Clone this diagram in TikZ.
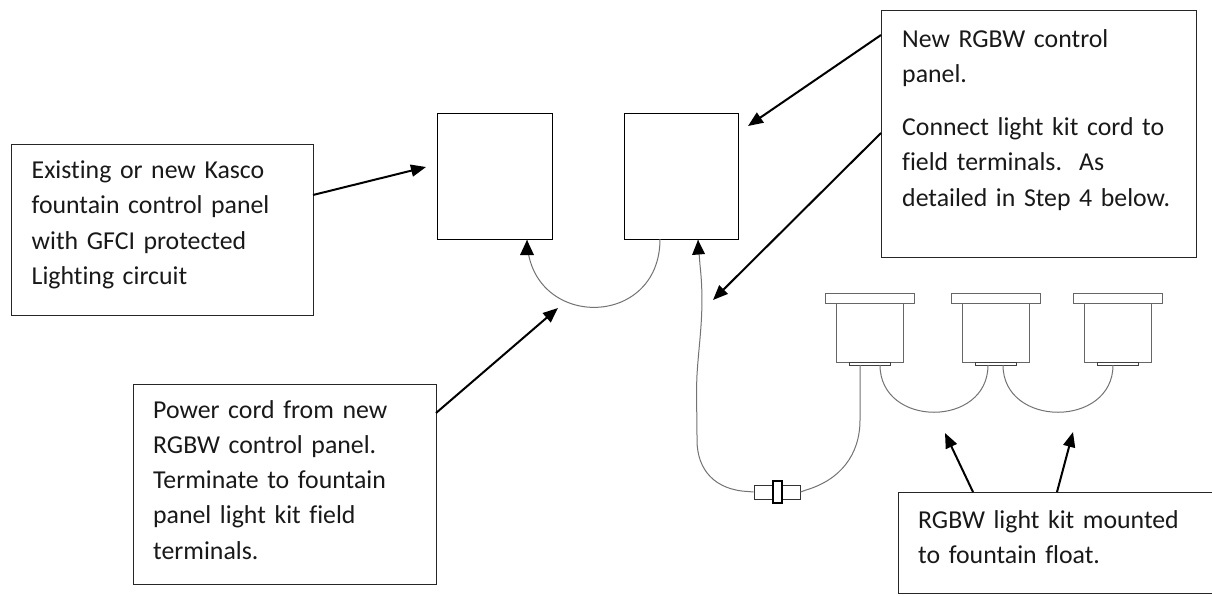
\documentclass[tikz,border=0pt]{standalone}
\usepackage{fontspec}
\setmainfont[Ligatures=NoCommon]{Carlito}
\usetikzlibrary{arrows.meta}
\begin{document}
\begin{tikzpicture}[x=1pt,y=-1pt,
  box/.style={draw=black!85, line width=1.4pt, rectangle, inner sep=0pt, anchor=north west},
  panel/.style={draw=black, line width=1.3pt, rectangle, inner sep=0pt, anchor=north west},
  txt/.style={anchor=base west, inner sep=0pt, align=left, text width=320pt,
    font=\fontsize{25.8}{35.3}\selectfont, text=black!90},
  callout/.style={draw=black, line width=2pt, -{Triangle[length=15pt,width=12pt]}},
  wire/.style={draw=black!55, line width=1pt},
  lamp/.style={draw=black!60, line width=1pt, fill=white}
]
\clip (0,0) rectangle (1212,595);
\fill[white] (0,0) rectangle (1212,595);

% text boxes
\node[box, minimum width=302pt, minimum height=171pt] (b1) at (11,144) {};
\node[txt] (t1) at (31.5,178.5) {Existing or new Kasco\\fountain control panel\\with GFCI protected\\Lighting circuit};

\node[box, minimum width=315pt, minimum height=247pt] (b2) at (881,10) {};
\node[txt] (t2) at (902,47) {New RGBW control\\panel.\\[18pt]Connect light kit cord to\\field terminals.\ \ As\\detailed in Step 4 below.};

\node[box, minimum width=303pt, minimum height=200pt] (b3) at (133,384) {};
\node[txt] (t3) at (153,418) {Power cord from new\\RGBW control panel.\\Terminate to fountain\\panel light kit field\\terminals.};

\node[box, minimum width=320pt, minimum height=101pt] (b4) at (898,492) {};
\node[txt] (t4) at (918,528) {RGBW light kit mounted\\to fountain float.};

% control panels
\node[panel, minimum width=115pt, minimum height=126pt] (pa) at (437,113) {};
\node[panel, minimum width=114pt, minimum height=126pt] (pb) at (624,113) {};

% lamps
\foreach \i/\cx in {1/870, 2/996, 3/1118} {
  \node[lamp, minimum width=67pt, minimum height=59pt, inner sep=0pt] (body\i) at (\cx,332.5) {};
  \node[lamp, minimum width=89pt, minimum height=10pt, inner sep=0pt] (cap\i) at (\cx,298) {};
  \node[draw=black!75, fill=white, line width=1pt, minimum width=41pt, minimum height=3pt, inner sep=0pt, anchor=north] (plate\i) at (\cx,362) {};
}

% connector
\node[draw=black!80, fill=white, line width=1pt, minimum width=46pt, minimum height=14pt, inner sep=0pt] (conn) at (777,492) {};
\node[draw=black, fill=white, line width=1.3pt, minimum width=9pt, minimum height=22pt, inner sep=0pt] (connmid) at (777.5,492) {};

% coordinates on wires
\coordinate (pbw) at (660,239);
\coordinate (paw) at (527,240);
\coordinate (pbc) at (698,240);
\coordinate (l1a) at (860,365);
\coordinate (l1b) at (880,365);
\coordinate (l2a) at (988,365);
\coordinate (l2b) at (1003,365);
\coordinate (l3a) at (1113,365);

% power cord between panels
\draw[wire] (pbw) .. controls (660,330) and (529,330) .. (paw);
\fill[black] (paw) -- ++(-7,15) -- ++(14,0) -- cycle;

% light kit cord from panel B to lamp 1
\draw[wire] (conn.west) -- (748,491.5) .. controls (715,490) and (697,470) .. (697,440)
  .. controls (697,410) and (696,395) .. (697,375)
  .. controls (699,340) and (705,310) .. (700,265) -- (pbc);
\fill[black] (pbc) -- ++(-6,15) -- ++(13,-1) -- cycle;
\draw[wire] (conn.east) -- (806,490) .. controls (840,480) and (860,455) .. (860,420) -- (l1a);

% lamp to lamp cords
\draw[wire] (l1b) .. controls (880,428) and (988,428) .. (l2a);
\draw[wire] (l2b) .. controls (1003,428) and (1113,428) .. (l3a);

% callout arrows
\coordinate (a1s) at (313,195);   \coordinate (a1e) at (426,167);
\coordinate (a2s) at (436,413);   \coordinate (a2e) at (558,308);
\coordinate (a3s) at (881,35);    \coordinate (a3e) at (748,126);
\coordinate (a4s) at (881,133);   \coordinate (a4e) at (713,300);
\coordinate (a5s) at (973,492);   \coordinate (a5e) at (945,433);
\coordinate (a6s) at (1057,492);  \coordinate (a6e) at (1073,432);
\draw[callout] (a1s) -- (a1e);
\draw[callout] (a2s) -- (a2e);
\draw[callout] (a3s) -- (a3e);
\draw[callout] (a4s) -- (a4e);
\draw[callout] (a5s) -- (a5e);
\draw[callout] (a6s) -- (a6e);
\end{tikzpicture}
\end{document}
